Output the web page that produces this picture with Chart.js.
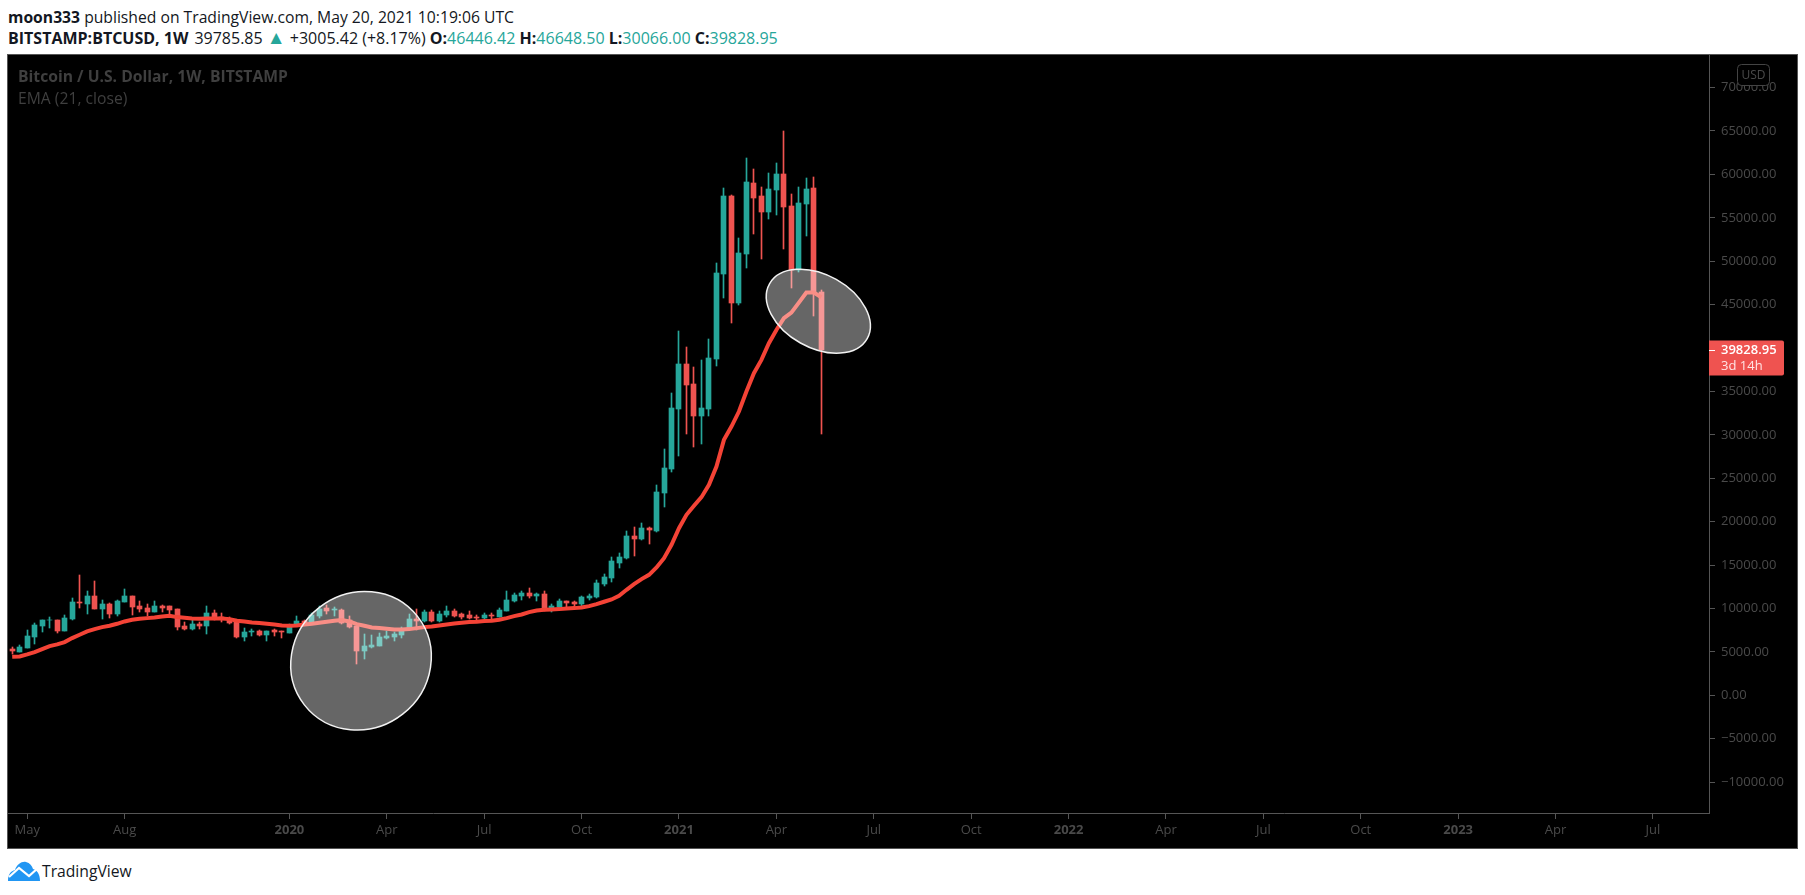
<!DOCTYPE html>
<html>
<head>
<meta charset="utf-8">
<title>BTCUSD 1W</title>
<script src="https://cdn.jsdelivr.net/npm/chart.js@4/dist/chart.umd.min.js"></script>
<style>
  html, body { margin: 0; padding: 0; background: #fff; overflow: hidden; }
  body { width: 1805px; height: 895px; position: relative; font-family: "Open Sans", sans-serif; color: #131722; }
  .line { position: absolute; left: 8px; white-space: nowrap; font-size: 16px; line-height: 20px; }
  .line b { font-weight: 700; }
  .up { color: #26a69a; }
  .tri { font-size: 19px; line-height: 0; }
  #pane { position: absolute; left: 8px; top: 55px; width: 1789px; height: 793px; background: #000; box-shadow: 0 0 0 1px #555; }
  #chart { display: block; }
  .mark { position: absolute; left: 18px; color: #3f3f3f; font-size: 15.7px; line-height: 20px; white-space: nowrap; }
  #logo { position: absolute; left: 8px; top: 861px; }
  #logoText { position: absolute; left: 42px; top: 860px; font-size: 15.7px; line-height: 23px; }
</style>
</head>
<body>
<div class="line" style="top:7px;font-size:15.7px"><b>moon333</b> published on TradingView.com, May 20, 2021 10:19:06 UTC</div>
<div class="line" style="top:28px"><b style="margin-right:6px">BITSTAMP:BTCUSD, 1W</b>39785.85 <span class="up tri">▲</span> +3005.42 (+8.17%) <b>O:</b><span class="up">46446.42</span> <b>H:</b><span class="up">46648.50</span> <b>L:</b><span class="up">30066.00</span> <b>C:</b><span class="up">39828.95</span></div>
<div id="pane"><canvas id="chart" width="1789" height="793"></canvas></div>
<div class="mark" style="top:66px;font-weight:700">Bitcoin / U.S. Dollar, 1W, BITSTAMP</div>
<div class="mark" style="top:88px">EMA (21, close)</div>
<svg id="logo" width="33" height="20" viewBox="0 0 33 20">
  <path d="M0 20 C0 13 3 10 7 9 C9 3 14 0 18 1 C22 2 24 5 25 8 C29 9 32 13 32 20 Z" fill="#2196f3"/>
  <path d="M1 16 L11 7 L21 15 L30 7" fill="none" stroke="#fff" stroke-width="2.2"/>
</svg>
<div id="logoText">TradingView</div>

<script>
// --- weekly candles, first bar is spring 2019 ---
const opens = [5325,4980,5479,6745,8012,8626,8703,7436,8818,10775,10545,11466,9969,10545,9394,10775,11466,10315,10084,9624,
  10315,10315,9969,8012,7667,8242,8012,9509,9048,8818,8472,6745,7244,7436,6976,7474,7359,7206,8012,8587,
  8434,9086,10084,9854,9854,8703,8012,5134,5594,5709,6630,6745,6976,7628,8818,8587,9624,8587,9279,9739,
  9317,9279,9048,8933,9240,9048,9739,10891,11466,11812,11466,11697,10085,10200,10852,10776,10545,11236,11351,12848,
  13537,15265,15840,18373,18028,19294,18949,23324,26088,32996,38176,35872,32188,32993,38751,48537,57518,45198,50840,59015,
  57518,55676,58209,60052,56367,48998,56597,58439,46446];
const highs = [5594,5824,7551,8358,8703,9048,8703,9279,11236,13884,12042,13193,11006,10660,11006,12272,11466,10890,10545,10890,
  10430,10315,9969,8472,8703,8472,10315,9854,9509,9048,8703,7782,7667,7551,7436,7667,7436,8242,9163,8703,
  9470,10238,10430,10200,9969,9163,8012,7091,6976,7206,7436,7321,7858,9394,9969,9854,9854,9739,10315,9969,
  9509,9739,9279,9471,9471,10085,12042,11812,12042,12387,11812,12042,10545,11121,10852,10891,11466,11697,13309,13999,
  15955,16416,18949,19409,19870,19409,24245,28390,34838,41976,40134,37829,38635,41053,49804,58440,57634,52683,61894,60627,
  58555,60167,61318,65003,57749,58555,59591,59706,46648];
const lows = [4788,4942,5402,5939,7321,7782,7206,7359,8703,10084,9394,9969,8818,8933,9163,10775,9279,9624,9163,9624,
  9624,9279,7551,7551,7551,7667,7091,8703,8472,8242,6630,6285,6861,6861,6285,6861,6630,7206,8012,8280,
  8434,8933,9394,9163,8242,7782,3637,4212,5479,5709,6515,6285,6630,7551,7551,8472,8472,8472,9048,9048,
  8818,8779,8703,8818,8703,9048,9739,10776,11006,11236,10891,9739,9624,10085,10085,10200,10315,11006,11236,12618,
  13077,14689,15725,16070,17913,17452,18834,21712,25742,27584,30117,28618,28963,32188,37945,45774,42896,44968,49228,53143,
  50264,54870,55331,51416,46925,48768,52913,43702,30066];
const closes = [5058,5594,6861,8127,8703,8703,7436,8933,10775,10583,11466,9969,10545,9394,10890,11466,10200,9969,9624,10315,
  10084,9854,7897,7667,8242,8012,9509,8933,8933,8358,6745,7321,7436,6976,7436,7244,7244,8127,8587,8320,
  9279,9969,9739,9969,8358,7858,5134,5709,5824,6745,6861,7091,7628,8818,8587,9624,8587,9394,9739,9163,
  9048,8933,8933,9279,9087,9854,11006,11581,11812,11466,11697,10085,10315,10891,10660,10545,11351,11466,12963,13654,
  15495,15955,18373,18028,19294,19064,23439,26203,33111,38176,35759,32188,33109,38866,48653,57518,45198,50955,59130,57288,
  55676,58324,60052,56252,48998,56712,58324,46350,39829];

// EMA (21, close)
const emaValues = [4443,4481,4711,4980,5325,5671,5863,6131,6592,6976,7359,7628,7858,8012,8242,8511,8703,8818,8894,8971,
  9087,9163,9010,8933,8856,8818,8856,8856,8856,8780,8587,8511,8396,8319,8242,8166,8050,8012,8050,8166,
  8242,8358,8473,8587,8664,8511,8204,8012,7820,7743,7667,7590,7590,7628,7743,7858,7935,8050,8166,8281,
  8358,8434,8473,8550,8588,8703,8895,9125,9317,9586,9778,9854,9893,9931,10008,10046,10123,10277,10507,10780,
  11043,11465,12156,12808,13384,13882,14728,15802,17337,19256,20791,21827,22825,24245,26356,29427,30962,32689,34989,37100,
  38635,40554,42089,43433,44085,45237,46388,46388,45851];

const priceTicks = [-10000,-5000,0,5000,10000,15000,20000,25000,30000,35000,40000,45000,50000,55000,60000,65000,70000];
const timeTickBars = [2,15,37,50,63,76,89,102,115,128,141,154,167,180,193,206,219];
const timeTickLabels = ['May','Aug','2020','Apr','Jul','Oct','2021','Apr','Jul','Oct','2022','Apr','Jul','Oct','2023','Apr','Jul'];

// the two drawn circles: centre in bar / price, radii in px, tilt in degrees
const ellipseBars = [46.56, 107.6];
const ellipsePrices = [3983, 44245];
const ellipseRadiiX = [71.8, 56];
const ellipseRadiiY = [67.7, 36.5];
const ellipseTilts = [-37.9, 29.3];

const lastPrice = 39828.95;
const upColor = '#26a69a';
const downColor = '#ef5350';
const dimColor = '#4a4a4a';
const axisColor = '#555555';
const tickLength = 6;
const fontName = '"Open Sans", sans-serif';

const barColors = opens.map((o, i) => (closes[i] >= o ? upColor : downColor));
const wickData = opens.map((o, i) => ({ x: i, y: [lows[i], highs[i]] }));
const bodyData = opens.map((o, i) => ({ x: i, y: [o, closes[i]] }));
const emaData = emaValues.map((v, i) => ({ x: i, y: v }));

function priceLabel(v) {
  return v.toFixed(2).replace('-', '\u2212');
}

function isYearTick(tick) {
  return !!tick && /^\d+$/.test(tick.label);
}

// --- snap candles to whole pixels so wicks stay 1px sharp ---
const snapPlugin = {
  id: 'snap',
  afterDatasetsUpdate(chart) {
    chart.data.datasets.forEach((ds, i) => {
      const meta = chart.getDatasetMeta(i);
      if (meta.type !== 'bar') return;
      meta.data.forEach(el => {
        el.x = Math.floor(el.x) + 0.5;
        el.y = Math.round(el.y);
        el.base = Math.round(el.base);
      });
    });
  }
};

// --- overlay: drawn circles, axis tick marks, last price tag, USD box ---
const overlayPlugin = {
  id: 'overlay',
  afterDatasetsDraw(chart) {
    const { ctx, scales } = chart;
    ctx.save();
    ellipseBars.forEach((bar, i) => {
      ctx.beginPath();
      ctx.ellipse(
        scales.x.getPixelForValue(bar),
        scales.y.getPixelForValue(ellipsePrices[i]),
        ellipseRadiiX[i], ellipseRadiiY[i],
        ellipseTilts[i] * Math.PI / 180, 0, Math.PI * 2
      );
      ctx.fillStyle = 'rgba(255,255,255,0.4)';
      ctx.fill();
      ctx.lineWidth = 1.5;
      ctx.strokeStyle = '#f2f2f2';
      ctx.stroke();
    });
    ctx.restore();
  },
  afterDraw(chart) {
    const { ctx, scales, chartArea } = chart;
    const axisX = chartArea.right;
    const y = scales.y.getPixelForValue(lastPrice);
    ctx.save();
    // tick marks
    ctx.strokeStyle = axisColor;
    ctx.lineWidth = 1;
    ctx.beginPath();
    timeTickBars.forEach(bar => {
      const px = Math.floor(scales.x.getPixelForValue(bar)) + 0.5;
      ctx.moveTo(px, chartArea.bottom);
      ctx.lineTo(px, chartArea.bottom + tickLength);
    });
    priceTicks.forEach(price => {
      const py = Math.floor(scales.y.getPixelForValue(price)) + 0.5;
      ctx.moveTo(axisX, py);
      ctx.lineTo(axisX + tickLength, py);
    });
    ctx.stroke();
    // last price tag
    ctx.fillStyle = downColor;
    ctx.beginPath();
    ctx.roundRect(axisX, y - 9, 75, 35, [0, 2, 2, 0]);
    ctx.fill();
    ctx.strokeStyle = '#fff';
    ctx.beginPath();
    ctx.moveTo(axisX, Math.round(y) + 0.5);
    ctx.lineTo(axisX + tickLength, Math.round(y) + 0.5);
    ctx.stroke();
    ctx.textBaseline = 'middle';
    ctx.textAlign = 'left';
    ctx.fillStyle = '#fff';
    ctx.font = '600 13px ' + fontName;
    ctx.fillText(priceLabel(lastPrice), axisX + 12, y + 1);
    ctx.fillStyle = '#ffe4e4';
    ctx.font = '13px ' + fontName;
    ctx.fillText('3d 14h', axisX + 12, y + 17);
    // USD box sits on top of the 70000 tick
    ctx.fillStyle = '#000';
    ctx.strokeStyle = '#444';
    ctx.beginPath();
    ctx.roundRect(axisX + 28.5, 9.5, 32, 21, 4);
    ctx.fill();
    ctx.stroke();
    ctx.fillStyle = dimColor;
    ctx.textAlign = 'center';
    ctx.font = '12px ' + fontName;
    ctx.fillText('USD', axisX + 44.5, 20.5);
    ctx.restore();
  }
};

new Chart(document.getElementById('chart'), {
  type: 'bar',
  data: {
    datasets: [
      { type: 'line', data: emaData, borderColor: '#f44336', borderWidth: 4, pointRadius: 0, tension: 0, order: 1 },
      { data: bodyData, backgroundColor: barColors, barThickness: 5, grouped: false, order: 2 },
      { data: wickData, backgroundColor: barColors, barThickness: 1, grouped: false, order: 3 }
    ]
  },
  options: {
    responsive: false,
    animation: false,
    events: [],
    layout: { padding: 0 },
    plugins: { legend: { display: false }, tooltip: { enabled: false } },
    scales: {
      x: {
        type: 'linear',
        offset: false,
        min: -0.56,
        max: 226.48,
        // fixed axis size, no label padding, so the plot area stays where the reference has it
        afterFit(scale) { scale.height = 35; scale.paddingLeft = 0; scale.paddingRight = 0; },
        afterBuildTicks(scale) { scale.ticks = timeTickBars.map(v => ({ value: v })); },
        grid: { drawOnChartArea: false, drawTicks: false },
        border: { color: axisColor },
        ticks: {
          autoSkip: false,
          maxRotation: 0,
          padding: 9,
          color: dimColor,
          font: ctx => ({ family: fontName, size: 13, weight: isYearTick(ctx.tick) ? '700' : '400' }),
          callback: v => timeTickLabels[timeTickBars.indexOf(v)]
        }
      },
      y: {
        position: 'right',
        min: -13551,
        max: 73752,
        afterFit(scale) { scale.width = 88; scale.paddingTop = 0; scale.paddingBottom = 0; },
        afterBuildTicks(scale) { scale.ticks = priceTicks.map(v => ({ value: v })); },
        grid: { drawOnChartArea: false, drawTicks: false },
        border: { color: axisColor },
        ticks: {
          autoSkip: false,
          padding: 12,
          color: dimColor,
          font: { family: fontName, size: 13 },
          callback: v => priceLabel(v)
        }
      }
    }
  },
  plugins: [snapPlugin, overlayPlugin]
});
</script>
</body>
</html>
